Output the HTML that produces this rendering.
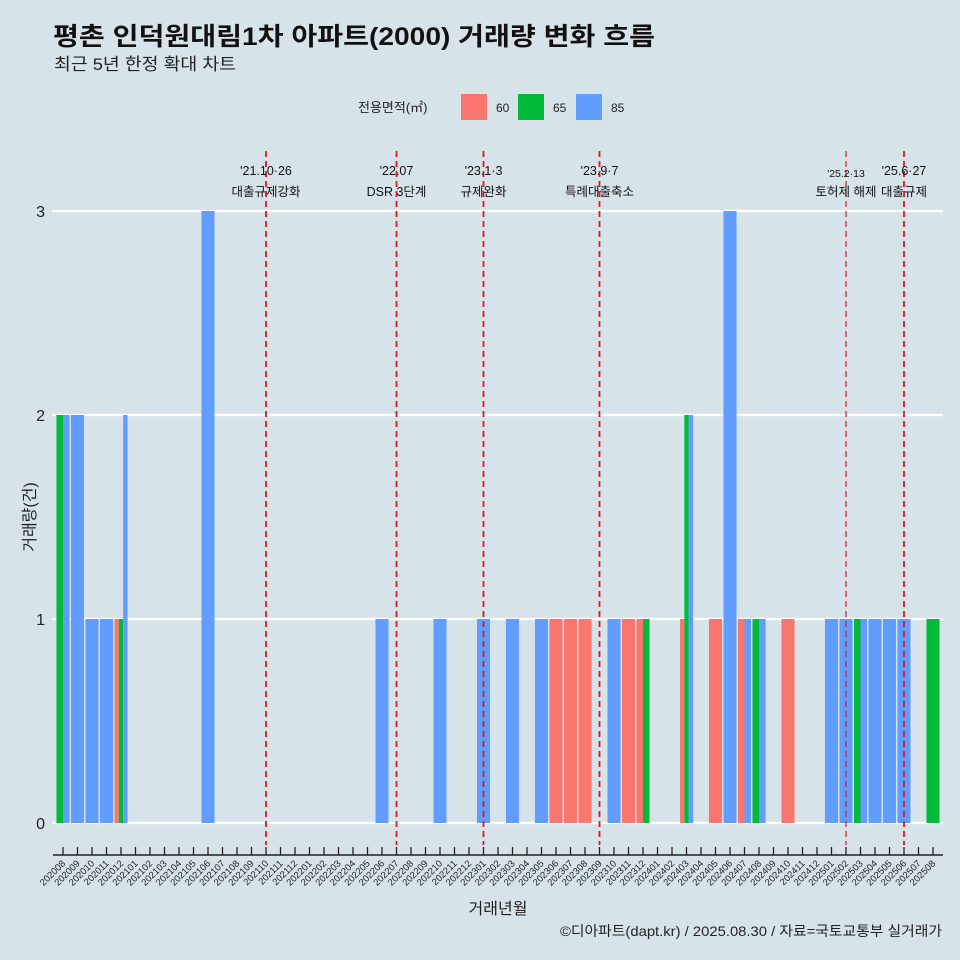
<!DOCTYPE html>
<html><head><meta charset="utf-8"><style>
body{margin:0;background:#d6e4ea}
svg{display:block;font-family:"Liberation Sans","Noto Sans CJK KR",sans-serif}
</style></head><body>
<svg id="c" width="960" height="960" viewBox="0 0 960 960">
<rect width="960" height="960" fill="#d6e4ea"/>
<text x="53" y="45" font-size="25" font-weight="bold" fill="#111" textLength="602" lengthAdjust="spacingAndGlyphs">평촌 인덕원대림1차 아파트(2000) 거래량 변화 흐름</text>
<text x="54" y="70" font-size="17" fill="#222" textLength="182" lengthAdjust="spacingAndGlyphs">최근 5년 한정 확대 차트</text>
<g>
<text x="358" y="112" font-size="13" fill="#222">전용면적(㎡)</text>
<rect x="461" y="94" width="26" height="26" fill="#f8766d"/>
<text x="496" y="112" font-size="12" fill="#222">60</text>
<rect x="518" y="94" width="26" height="26" fill="#00ba38"/>
<text x="553" y="112" font-size="12" fill="#222">65</text>
<rect x="576" y="94" width="26" height="26" fill="#619cff"/>
<text x="611" y="112" font-size="12" fill="#222">85</text>
</g>
<g id="grid"></g><g id="bars"></g><g id="events"></g><g id="xaxis"></g>
<text x="35" y="517" font-size="16" fill="#222" text-anchor="middle" transform="rotate(-90 35 517)">거래량(건)</text>
<text x="498" y="914" font-size="16" fill="#222" text-anchor="middle">거래년월</text>
<text x="942" y="936" font-size="14" fill="#222" text-anchor="end" textLength="382" lengthAdjust="spacingAndGlyphs">©디아파트(dapt.kr) / 2025.08.30 / 자료=국토교통부 실거래가</text>
</svg>
<script>
const months=[];for(let y=2020;y<=2025;y++)for(let m=1;m<=12;m++){const k=y*100+m;if(k>=202008&&k<=202508)months.push(String(k));}
const m60={"202012":1,"202306":1,"202307":1,"202308":1,"202311":1,"202312":1,"202403":1,"202405":1,"202407":1,"202410":1};
const m65={"202008":2,"202012":1,"202312":1,"202403":2,"202408":1,"202503":1,"202508":1};
const m85={"202008":2,"202009":2,"202010":1,"202011":1,"202012":2,"202106":3,"202206":1,"202210":1,"202301":1,"202303":1,"202305":1,"202310":1,"202403":2,"202406":3,"202407":1,"202408":1,"202501":1,"202502":1,"202503":1,"202504":1,"202505":1,"202506":1};
const yTicks=[0,1,2,3];
const eventMonths=["202110","202207","202301","202309","202502","202506"];
const eventLine1=["'21.10·26","'22.07","'23.1·3","'23.9·7","'25.2·13","'25.6·27"];
const eventLine2=["대출규제강화","DSR 3단계","규제완화","특례대출축소","토허제 해제","대출규제"];
const NS="http://www.w3.org/2000/svg";
const X=i=>63+i*(870/(months.length-1));
const Y=v=>823-v*204;
function mk(t,a,p){const e=document.createElementNS(NS,t);for(const k in a)e.setAttribute(k,a[k]);p.appendChild(e);return e;}
const grid=document.getElementById('grid');
yTicks.forEach(v=>{
 const l=mk('line',{x1:52,x2:943,y1:Y(v),y2:Y(v),stroke:'#fff','stroke-width':2.2},grid);
 
 
 const t=mk('text',{x:45,y:Y(v)+6,'font-size':16,'text-anchor':'end',fill:'#222'},grid);t.textContent=v;
 
 
});
const bars=document.getElementById('bars');
const cols=['#f8766d','#00ba38','#619cff'];const series=[m60,m65,m85];
const bw=870/(months.length-1)*0.9;
months.forEach((m,i)=>{
 const pres=[0,1,2].filter(s=>series[s][m]>0);
 const w=bw/pres.length;
 pres.forEach((s,j)=>{
  const v=series[s][m];
  const r=mk('rect',{x:X(i)-bw/2+j*w,y:Y(v),width:w,height:Y(0)-Y(v),fill:cols[s]},bars);
  
  
 });
});
const ev=document.getElementById('events');
eventMonths.forEach((m,k)=>{
 const x=X(months.indexOf(m));
 const small=k===4;
 const l=mk('line',{x1:x,x2:x,y1:151,y2:845,stroke:'#e8141c','stroke-width':small?1.2:1.8,'stroke-dasharray':'6,4'},ev);
 
 
 const fs=small?10.5:12.5;
 const t1=mk('text',{x:x,y:small?177:175,'font-size':fs,'text-anchor':'middle',fill:'#111'},ev);t1.textContent=eventLine1[k];
 
 
 const t2=mk('text',{x:x,y:196,'font-size':12.5,'text-anchor':'middle',fill:'#111'},ev);t2.textContent=eventLine2[k];
 
 
});
const xa=document.getElementById('xaxis');
const al=mk('line',{x1:53,x2:943,y1:855,y2:855,stroke:'#222','stroke-width':1.5},xa);


months.forEach((m,i)=>{
 const x=X(i);
 const tk=mk('line',{x1:x,x2:x,y1:847,y2:855,stroke:'#222','stroke-width':1.3},xa);
 
 
 const t=mk('text',{x:x+3,y:864,'font-size':9.5,'text-anchor':'end',fill:'#222',transform:`rotate(-45 ${x+3} 864)`},xa);t.textContent=m;
 
 
});
</script>
</body></html>
